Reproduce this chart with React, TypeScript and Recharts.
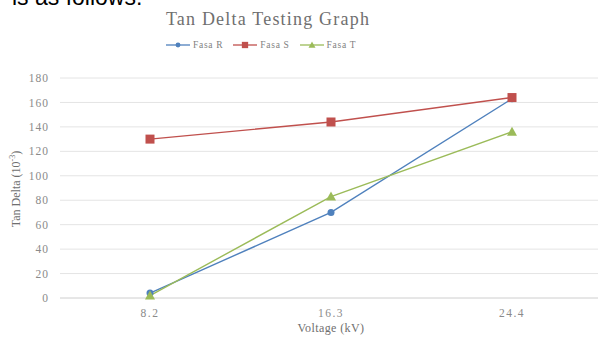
import { LineChart, Line, XAxis, YAxis, CartesianGrid, Label } from 'recharts';

const voltages = ['8.2', '16.3', '24.4'];
const fasaR = [4, 70, 163];
const fasaS = [130, 144, 164];
const fasaT = [2, 83, 136];
const yTicks = [0, 20, 40, 60, 80, 100, 120, 140, 160, 180];

const data = voltages.map((v, i) => ({ voltage: v, R: fasaR[i], S: fasaS[i], T: fasaT[i] }));

const BLUE = '#4F81BD';
const RED = '#C0504D';
const GREEN = '#9BBB59';
const SERIF = '"Liberation Serif", "DejaVu Serif", serif';

function Marker({ cx, cy, shape, color }: any) {
  if (cx == null || cy == null) return null;
  if (shape === 'square') {
    return <rect x={cx - 4.5} y={cy - 4.5} width={9} height={9} fill={color} />;
  }
  if (shape === 'triangle') {
    return <path d={`M${cx},${cy - 5}L${cx + 5},${cy + 4}L${cx - 5},${cy + 4}Z`} fill={color} />;
  }
  return <circle cx={cx} cy={cy} r={3.5} fill={color} />;
}

const legendItems = [
  { name: 'Fasa R', color: BLUE, shape: 'circle' },
  { name: 'Fasa S', color: RED, shape: 'square' },
  { name: 'Fasa T', color: GREEN, shape: 'triangle' },
];

function LegendContent() {
  return (
    <div style={{ display: 'flex', alignItems: 'center', fontFamily: SERIF, fontSize: 9.5, color: '#7f7f7f', letterSpacing: 0.7 }}>
      {legendItems.map((it) => (
        <div key={it.name} style={{ display: 'flex', alignItems: 'center', marginRight: 10 }}>
          <svg width={24} height={10}>
            <line x1={0} y1={5} x2={24} y2={5} stroke={it.color} strokeWidth={1.3} />
            <g transform="translate(12,5) scale(0.7) translate(-12,-5)">
              <Marker cx={12} cy={5} shape={it.shape} color={it.color} />
            </g>
          </svg>
          <span style={{ marginLeft: 3 }}>{it.name}</span>
        </div>
      ))}
    </div>
  );
}

export default function App() {
  return (
    <div style={{ position: 'absolute', left: 0, top: 0, width: 598, height: 342, overflow: 'hidden', background: '#fff' }}>
      <div style={{ position: 'absolute', left: 12, top: -16, fontFamily: '"Liberation Sans", Arial, sans-serif', fontSize: 23, color: '#000', whiteSpace: 'nowrap' }}>
        is as follows:
      </div>
      <div style={{ position: 'absolute', left: 0, width: 536, top: 9, textAlign: 'center', fontFamily: SERIF, fontSize: 18, letterSpacing: 1.2, color: '#6f6f6f', whiteSpace: 'nowrap' }}>
        Tan Delta Testing Graph
      </div>
      <div style={{ position: 'absolute', left: 166, top: 40, zIndex: 2 }}>
        <LegendContent />
      </div>
      <LineChart width={612} height={342} data={data} margin={{ top: 78, right: 10, bottom: 0, left: 0 }}>
        <CartesianGrid vertical={false} stroke="#e4e4e4" />
        <XAxis
          dataKey="voltage"
          height={44}
          padding={{ left: 90, right: 90 }}
          tickLine={false}
          axisLine={{ stroke: '#dcdcdc' }}
          tickMargin={5}
          tick={{ fontFamily: SERIF, fontSize: 11.5, fill: '#8a8a8a', letterSpacing: 1.5 }}
        >
          <Label value="Voltage (kV)" position="insideBottom" offset={10} style={{ fontFamily: SERIF, fontSize: 12, fill: '#6f6f6f', letterSpacing: 0.4 }} />
        </XAxis>
        <YAxis
          width={60}
          domain={[0, 180]}
          ticks={yTicks}
          interval={0}
          tickLine={false}
          axisLine={false}
          tickSize={0}
          tickMargin={11}
          tick={{ fontFamily: SERIF, fontSize: 11.5, fill: '#8a8a8a', letterSpacing: 1 }}
        >
          <Label
            content={() => (
              <text x={17} y={189} transform="rotate(-90 17 189)" textAnchor="middle" dominantBaseline="middle" style={{ fontFamily: SERIF, fontSize: 12, fill: '#6f6f6f' }}>
                Tan Delta (10<tspan dy={-4} fontSize={8}>-3</tspan><tspan dy={4}>)</tspan>
              </text>
            )}
          />
        </YAxis>
        <Line type="linear" dataKey="R" name="Fasa R" stroke={BLUE} strokeWidth={1.4} isAnimationActive={false} dot={(p: any) => <Marker key={`r${p.index}`} cx={p.cx} cy={p.cy} shape="circle" color={BLUE} />} activeDot={false} />
        <Line type="linear" dataKey="S" name="Fasa S" stroke={RED} strokeWidth={1.4} isAnimationActive={false} dot={(p: any) => <Marker key={`s${p.index}`} cx={p.cx} cy={p.cy} shape="square" color={RED} />} activeDot={false} />
        <Line type="linear" dataKey="T" name="Fasa T" stroke={GREEN} strokeWidth={1.4} isAnimationActive={false} dot={(p: any) => <Marker key={`t${p.index}`} cx={p.cx} cy={p.cy} shape="triangle" color={GREEN} />} activeDot={false} />
      </LineChart>
    </div>
  );
}
